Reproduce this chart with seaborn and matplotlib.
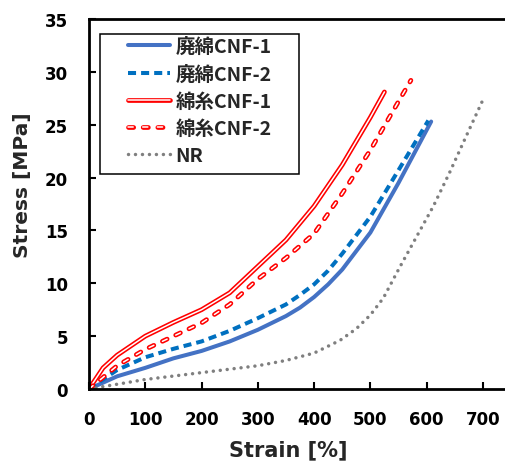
import matplotlib
matplotlib.use('Agg')
import matplotlib.pyplot as plt
import matplotlib.patheffects as pe
from matplotlib.patches import Rectangle
import seaborn as sns

# 読み取り値: Strain [%] / Stress [MPa]
haimen1_x = [0, 50, 100, 150, 200, 250, 300, 350, 375, 400, 425, 450, 500, 550, 608]
haimen1_y = [0, 1.2, 2.0, 2.9, 3.6, 4.5, 5.6, 6.9, 7.7, 8.7, 9.9, 11.3, 14.8, 19.5, 25.3]
haimen2_x = [0, 50, 100, 150, 200, 250, 300, 350, 375, 400, 425, 450, 500, 550, 603]
haimen2_y = [0, 1.8, 3.0, 3.8, 4.5, 5.5, 6.7, 8.0, 8.9, 9.9, 11.2, 12.8, 16.3, 20.7, 25.4]
menshi1_x = [0, 25, 50, 100, 150, 200, 250, 300, 350, 400, 450, 500, 525]
menshi1_y = [0, 2.0, 3.2, 5.0, 6.3, 7.5, 9.1, 11.6, 14.1, 17.3, 21.2, 25.7, 28.1]
menshi2_x = [0, 50, 100, 150, 200, 250, 300, 350, 400, 450, 500, 550, 572]
menshi2_y = [0, 2.2, 3.75, 5.0, 6.25, 8.0, 10.4, 12.4, 14.7, 18.5, 22.6, 27.2, 29.2]
nr_x = [0, 100, 200, 300, 350, 400, 446, 475, 500, 523, 552, 582, 612, 641, 671, 703]
nr_y = [0, 0.9, 1.55, 2.2, 2.7, 3.4, 4.6, 5.7, 7.0, 8.6, 11.5, 14.4, 17.3, 20.5, 24.0, 27.7]

labels = ['廃綿CNF-1', '廃綿CNF-2', '綿糸CNF-1', '綿糸CNF-2', 'NR']
xticks = [0, 100, 200, 300, 400, 500, 600, 700]
yticks = [0, 5, 10, 15, 20, 25, 30, 35]

sns.set_theme(style='white')
plt.rcParams['font.family'] = ['DejaVu Sans', 'Noto Sans CJK JP']
plt.rcParams['font.weight'] = 'bold'

fig = plt.figure(figsize=(5.06, 4.64), dpi=100)
ax = fig.add_axes([89 / 506, 74 / 464, 417 / 506, 370 / 464])

hollow = [pe.Stroke(linewidth=3.4, foreground='#FF0000'), pe.Normal()]

sns.lineplot(x=haimen1_x, y=haimen1_y, ax=ax, color='#4472C4', lw=2.9,
             estimator=None, sort=False, label=labels[0])
sns.lineplot(x=haimen2_x, y=haimen2_y, ax=ax, color='#0070C0', lw=2.9,
             linestyle=(0, (2.0, 1.25)), estimator=None, sort=False, label=labels[1])
sns.lineplot(x=menshi1_x, y=menshi1_y, ax=ax, color='white', lw=1.1,
             estimator=None, sort=False, label=labels[2])
ax.lines[-1].set_path_effects(hollow)
sns.lineplot(x=menshi2_x, y=menshi2_y, ax=ax, color='white', lw=1.1,
             linestyle=(0, (3.4, 6.2)), dash_capstyle='round',
             estimator=None, sort=False, label=labels[3])
ax.lines[-1].set_path_effects(hollow)
sns.lineplot(x=nr_x, y=nr_y, ax=ax, color='#7F7F7F', lw=2.5,
             linestyle=(0, (0.01, 2.0)), dash_capstyle='round',
             estimator=None, sort=False, label=labels[4])

ax.set_xlim(0, 741)
ax.set_ylim(0, 35)
ax.set_xticks(xticks)
ax.set_yticks(yticks)
ax.tick_params(axis='both', direction='in', length=5, width=1.5, pad=15,
               labelsize=12, colors='black', left=True, bottom=True)
for t in ax.get_xticklabels() + ax.get_yticklabels():
    t.set_fontweight('bold')
for side in ['left', 'bottom', 'top']:
    ax.spines[side].set_color('black')
    ax.spines[side].set_linewidth(2)
ax.spines['right'].set_visible(False)

ax.set_xlabel('Strain [%]', fontsize=15, fontweight='bold')
ax.set_ylabel('Stress [MPa]', fontsize=14.5, fontweight='bold')
ax.xaxis.set_label_coords(0.477, -0.135)
ax.yaxis.set_label_coords(-0.137, 0.554)

leg = ax.legend(handles=ax.get_lines(), labels=labels, loc='upper left',
                bbox_to_anchor=(128 / 506, 1 - 38 / 464), bbox_transform=fig.transFigure,
                frameon=False, borderpad=0, borderaxespad=0, handlelength=2.16,
                handletextpad=0.28, labelspacing=0.42,
                prop={'family': 'Noto Sans CJK JP', 'weight': 'bold', 'size': 14})
fig.add_artist(Rectangle((100 / 506, 1 - 175 / 464), 199 / 506, 140 / 464,
                         transform=fig.transFigure, fill=False, edgecolor='black', lw=1.1))

fig.savefig('out.png', dpi=100)
